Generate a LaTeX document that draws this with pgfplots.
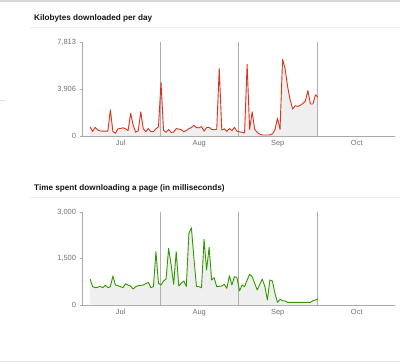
\documentclass[border=0pt]{standalone}
\usepackage{pgfplots}
\pgfplotsset{compat=1.18}
\usepackage{pgfplotstable}
\usepackage{fontspec}
\setmainfont{Liberation Sans}
\definecolor{kbred}{RGB}{220,51,30}
\definecolor{tgreen}{RGB}{51,153,0}
\definecolor{areagray}{RGB}{239,239,239}
\definecolor{axgray}{RGB}{170,170,170}
\definecolor{lblgray}{RGB}{115,115,115}
\definecolor{vgray}{RGB}{175,175,175}

\pgfplotstableread{
d v
-13 760
-12 380
-11 720
-10 500
-9 420
-8 400
-7 400
-6 400
-5 2170
-4 380
-3 224
-2 600
-1 620
0 680
1 600
2 450
3 1890
4 900
5 320
6 420
7 2016
8 600
9 360
10 616
11 360
12 360
13 600
14 760
15 4460
16 480
17 300
18 540
19 300
20 320
21 616
22 580
23 520
24 360
25 450
26 616
27 700
28 880
29 700
30 680
31 780
32 400
33 700
34 720
35 550
36 520
37 560
38 5600
39 500
40 600
41 380
42 620
43 450
44 720
45 400
46 350
47 300
48 250
49 5960
50 550
51 2010
52 550
53 300
54 150
55 84
56 84
57 84
58 90
59 180
60 520
61 1490
62 550
63 6380
64 5600
65 4100
66 3000
67 2240
68 2520
69 2460
70 2550
71 2700
72 2900
73 3780
74 2660
75 2660
76 3420
77 3220
}\kbdata

\pgfplotstableread{
d v
-13 838
-12 590
-11 560
-10 570
-9 600
-8 560
-7 634
-6 560
-5 590
-4 935
-3 645
-2 623
-1 590
0 560
1 688
2 640
3 613
4 516
5 590
6 623
7 630
8 645
9 688
10 731
11 560
12 590
13 1720
14 700
15 645
16 774
17 838
18 1828
19 1290
20 667
21 1720
22 613
23 700
24 774
25 600
26 2311
27 2494
28 1500
29 600
30 590
31 560
32 2118
33 1129
34 1860
35 806
36 880
37 590
38 600
39 613
40 667
41 538
42 946
43 645
44 914
45 881
46 452
47 645
48 590
49 806
50 989
51 914
52 700
53 484
54 667
55 838
56 600
57 161
58 806
59 774
60 376
61 86
62 183
63 140
64 129
65 86
66 86
67 86
68 86
69 86
70 86
71 86
72 86
73 86
74 86
75 140
76 161
77 194
}\tmdata

\pgfplotsset{
  gastyle/.style={
    scale only axis,
    width=313bp,
    xmin=-16.2, xmax=107.4,
    ymin=0,
    axis x line=bottom,
    axis y line=left,
    axis line style={draw=axgray, line width=0.8bp, -},
    xtick={-0.9,30.1,61.1,92.3},
    xticklabels={Jul,Aug,Sep,Oct},
    x tick style={draw=none},
    y tick style={draw=axgray, line width=0.6bp},
    tick align=outside,
    major tick length=2.5bp,
    ticklabel style={font=\fontsize{7.5}{9}\selectfont, text=lblgray},
    /pgf/number format/assume math mode=true,
    xticklabel style={yshift=1.5bp},
    clip=false,
  }
}

\begin{document}
\begin{tikzpicture}
\useasboundingbox (0,0) rectangle (400bp,362bp);
\fill[white] (0,0) rectangle (400bp,362bp);
% page decorations
\draw[draw={rgb,255:red,215;green,215;blue,215}, line width=1.6bp] (0,361.2bp) -- (400bp,361.2bp);
\draw[draw={rgb,255:red,238;green,238;blue,238}, line width=0.8bp] (30bp,335bp) -- (400bp,335bp);
\draw[draw={rgb,255:red,238;green,238;blue,238}, line width=0.8bp] (30bp,165bp) -- (400bp,165bp);
\draw[draw={rgb,255:red,225;green,225;blue,225}, line width=0.8bp] (0,262bp) -- (6bp,262bp);
\draw[draw={rgb,255:red,230;green,230;blue,230}, line width=1bp] (0,1bp) -- (400bp,1bp);

\node[anchor=base west, inner sep=0pt, font=\fontsize{8.2}{10}\selectfont\bfseries, text={rgb,255:red,20;green,20;blue,20}] at (34bp,341bp) {Kilobytes downloaded per day};
\node[anchor=base west, inner sep=0pt, font=\fontsize{8.2}{10}\selectfont\bfseries, text={rgb,255:red,20;green,20;blue,20}] at (34bp,171bp) {Time spent downloading a page (in milliseconds)};

\begin{axis}[gastyle,
  at={(82bp,226bp)}, anchor=south west,
  height=94bp,
  ymax=7813,
  ytick={0,3906,7813},
  yticklabels={0,{3,906},{7,813}},
]
\addplot[fill=areagray, draw=none] table[x=d,y=v]{\kbdata} \closedcycle;
\addplot[vgray, line width=0.8bp] coordinates {(14.6,0) (14.6,7813)};
\addplot[vgray, line width=0.8bp] coordinates {(45.5,0) (45.5,7813)};
\addplot[vgray, line width=0.8bp] coordinates {(76.7,0) (76.7,7813)};
\addplot[kbred, line width=0.9bp, line join=round] table[x=d,y=v]{\kbdata};
\end{axis}

\begin{axis}[gastyle,
  at={(82bp,57bp)}, anchor=south west,
  height=93bp,
  ymax=3000,
  ytick={0,1500,3000},
  yticklabels={0,{1,500},{3,000}},
]
\addplot[fill=areagray, draw=none] table[x=d,y=v]{\tmdata} \closedcycle;
\addplot[vgray, line width=0.8bp] coordinates {(14.6,0) (14.6,3000)};
\addplot[vgray, line width=0.8bp] coordinates {(45.5,0) (45.5,3000)};
\addplot[vgray, line width=0.8bp] coordinates {(76.7,0) (76.7,3000)};
\addplot[tgreen, line width=0.9bp, line join=round] table[x=d,y=v]{\tmdata};
\end{axis}
\end{tikzpicture}
\end{document}
